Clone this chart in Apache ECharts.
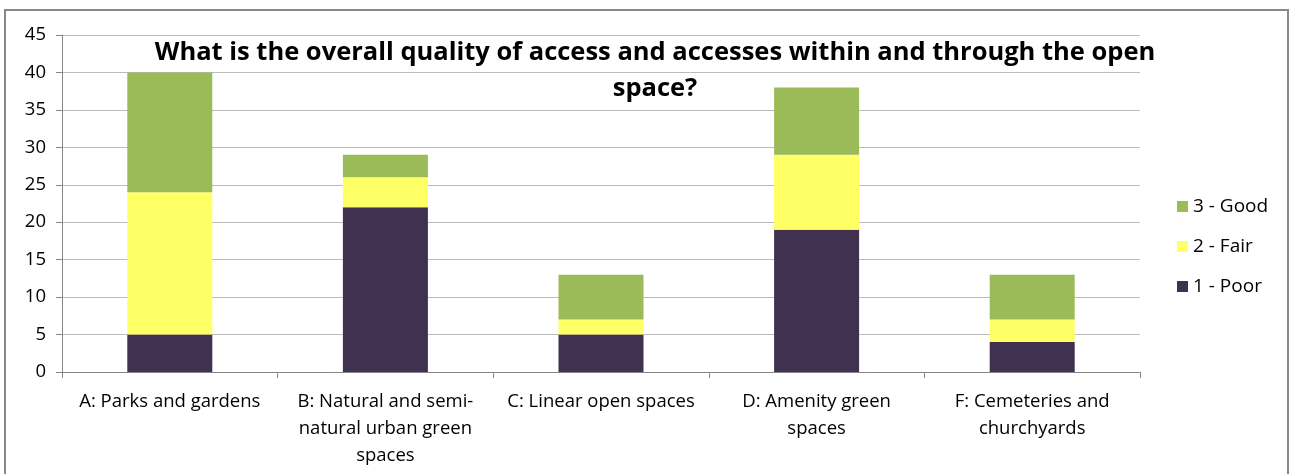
<!DOCTYPE html>
<html><head><meta charset="utf-8">
<script src="https://cdn.jsdelivr.net/npm/echarts@6/dist/echarts.min.js"></script>
<style>html,body{margin:0;padding:0;background:#fff}#c{width:1290px;height:474px}</style>
</head><body><div id="c"></div>
<script>
const categories = ['A: Parks and gardens', 'B: Natural and semi-\nnatural urban green\nspaces', 'C: Linear open spaces', 'D: Amenity green\nspaces', 'F: Cemeteries and\nchurchyards'];
const poor = [5, 22, 5, 19, 4];
const fair = [19, 4, 2, 10, 3];
const good = [16, 3, 6, 9, 6];
const seriesNames = ['1 - Poor', '2 - Fair', '3 - Good'];
const title = 'What is the overall quality of access and accesses within and through the open\nspace?';
const FONT = '"Open Sans", sans-serif';
const chart = echarts.init(document.getElementById('c'), null, {renderer: 'canvas'});
const mk = (name, data, color) => ({
  name, type: 'bar', stack: 'total', data, barWidth: 85,
  itemStyle: {color}, emphasis: {disabled: true}
});
chart.setOption({
  animation: false,
  backgroundColor: '#fff',
  textStyle: {fontFamily: FONT},
  graphic: [{type: 'rect', shape: {x: 5, y: 10, width: 1283, height: 470}, style: {fill: 'none', stroke: '#888', lineWidth: 2}, silent: true, z: 100}],
  title: {text: title, left: 650, top: 30, textAlign: 'center',
    textStyle: {fontFamily: FONT, fontWeight: 'bold', fontSize: 25.5, color: '#000', lineHeight: 36, align: 'center'}},
  legend: {orient: 'vertical', left: 1172, top: 192, itemWidth: 11, itemHeight: 11, itemGap: 21, itemTextGap: 5,
    data: ['3 - Good', '2 - Fair', '1 - Poor'], icon: 'rect',
    textStyle: {fontFamily: FONT, fontSize: 19, color: '#000'}},
  grid: {left: 62, right: 150, top: 35, bottom: 102},
  xAxis: {type: 'category', data: categories,
    axisLine: {lineStyle: {color: '#868686'}},
    axisTick: {show: true, length: 6, lineStyle: {color: '#868686'}},
    axisLabel: {fontFamily: FONT, fontSize: 18.5, color: '#000', lineHeight: 27, margin: 16, interval: 0}},
  yAxis: {type: 'value', min: 0, max: 45, interval: 5,
    axisLine: {show: true, lineStyle: {color: '#868686'}},
    axisTick: {show: true, length: 6, inside: false, lineStyle: {color: '#868686'}},
    splitLine: {lineStyle: {color: '#BBBBBB'}},
    axisLabel: {fontFamily: FONT, fontSize: 18.5, color: '#000', margin: 16}},
  series: [mk(seriesNames[0], poor, '#403151'), mk(seriesNames[1], fair, '#FFFF66'), mk(seriesNames[2], good, '#9BBB59')]
});
</script></body></html>
